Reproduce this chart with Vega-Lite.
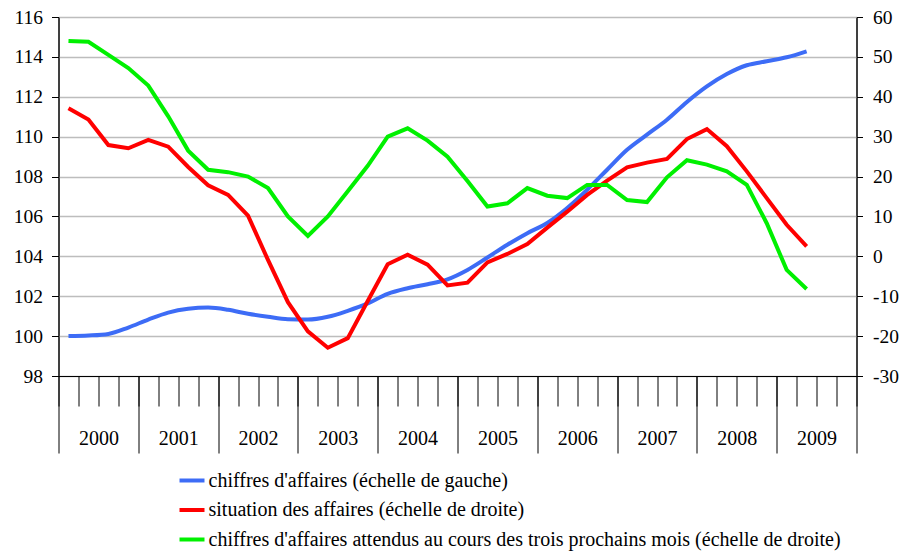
{
  "$schema": "https://vega.github.io/schema/vega-lite/v6.json",
  "width": 798,
  "height": 359,
  "autosize": {"type": "none"},
  "padding": {"left": 58.5, "top": 17, "right": 50.5, "bottom": 175},
  "background": "white",
  "config": {
    "view": {"stroke": "black", "strokeWidth": 1},
    "font": "Liberation Serif, Times New Roman, serif",
    "axis": {"labelFont": "Liberation Serif, Times New Roman, serif", "labelColor": "black", "domainColor": "black", "tickColor": "black", "domainWidth": 1, "tickWidth": 1},
    "legend": {"labelFont": "Liberation Serif, Times New Roman, serif"}
  },
  "data": {
    "values": [
      {"q": 0.5, "ca": 100.0, "sit": 37.1, "att": 54.0},
      {"q": 1.5, "ca": 100.03, "sit": 34.3, "att": 53.8},
      {"q": 2.5, "ca": 100.11, "sit": 27.9, "att": 50.5},
      {"q": 3.5, "ca": 100.43, "sit": 27.1, "att": 47.2},
      {"q": 4.5, "ca": 100.83, "sit": 29.2, "att": 42.8},
      {"q": 5.5, "ca": 101.18, "sit": 27.5, "att": 35.1},
      {"q": 6.5, "ca": 101.37, "sit": 22.4, "att": 26.5},
      {"q": 7.5, "ca": 101.43, "sit": 17.8, "att": 21.7},
      {"q": 8.5, "ca": 101.32, "sit": 15.4, "att": 21.1},
      {"q": 9.5, "ca": 101.12, "sit": 10.2, "att": 20.0},
      {"q": 10.5, "ca": 100.97, "sit": -0.9, "att": 17.1},
      {"q": 11.5, "ca": 100.85, "sit": -11.5, "att": 10.0},
      {"q": 12.5, "ca": 100.83, "sit": -18.8, "att": 5.1},
      {"q": 13.5, "ca": 100.97, "sit": -22.9, "att": 10.0},
      {"q": 14.5, "ca": 101.27, "sit": -20.5, "att": 16.3},
      {"q": 15.5, "ca": 101.64, "sit": -11.2, "att": 22.7},
      {"q": 16.5, "ca": 102.12, "sit": -2.0, "att": 30.0},
      {"q": 17.5, "ca": 102.4, "sit": 0.4, "att": 32.1},
      {"q": 18.5, "ca": 102.6, "sit": -2.1, "att": 29.0},
      {"q": 19.5, "ca": 102.85, "sit": -7.3, "att": 25.0},
      {"q": 20.5, "ca": 103.32, "sit": -6.6, "att": 18.9},
      {"q": 21.5, "ca": 103.94, "sit": -1.5, "att": 12.5},
      {"q": 22.5, "ca": 104.58, "sit": 0.6, "att": 13.3},
      {"q": 23.5, "ca": 105.16, "sit": 3.1, "att": 17.1},
      {"q": 24.5, "ca": 105.67, "sit": 7.2, "att": 15.2},
      {"q": 25.5, "ca": 106.42, "sit": 11.2, "att": 14.6},
      {"q": 26.5, "ca": 107.34, "sit": 15.4, "att": 17.9},
      {"q": 27.5, "ca": 108.34, "sit": 19.0, "att": 17.9},
      {"q": 28.5, "ca": 109.34, "sit": 22.3, "att": 14.1},
      {"q": 29.5, "ca": 110.1, "sit": 23.5, "att": 13.6},
      {"q": 30.5, "ca": 110.85, "sit": 24.4, "att": 19.8},
      {"q": 31.5, "ca": 111.74, "sit": 29.4, "att": 24.1},
      {"q": 32.5, "ca": 112.52, "sit": 31.9, "att": 23.0},
      {"q": 33.5, "ca": 113.14, "sit": 27.6, "att": 21.3},
      {"q": 34.5, "ca": 113.58, "sit": 21.3, "att": 17.9},
      {"q": 35.5, "ca": 113.78, "sit": 14.6, "att": 8.3},
      {"q": 36.5, "ca": 113.98, "sit": 7.9, "att": -3.4},
      {"q": 37.5, "ca": 114.28, "sit": 2.5, "att": -8.2}
    ]
  },
  "layer": [
    {
      "transform": [{"fold": ["ca"], "as": ["k", "v"]}],
      "mark": {"type": "line", "strokeWidth": 4, "interpolate": "monotone"},
      "encoding": {
        "x": {
          "field": "q", "type": "quantitative",
          "scale": {"domain": [0, 40], "nice": false, "zero": false},
          "axis": {
            "orient": "bottom", "title": null, "grid": false,
            "values": [0,1,2,3,4,5,6,7,8,9,10,11,12,13,14,15,16,17,18,19,20,21,22,23,24,25,26,27,28,29,30,31,32,33,34,35,36,37,38,39,40],
            "tickSize": 30,
            "labelExpr": "datum.value % 4 == 2 ? '' + (2000 + floor(datum.value / 4)) : ''",
            "labelBaseline": "middle", "labelAlign": "center", "labelPadding": 32,
            "labelFont": "Liberation Serif, Times New Roman, serif",
            "labelFontSize": 20, "labelOverlap": false, "labelFlush": false, "labelBound": false
          }
        },
        "y": {
          "field": "v", "type": "quantitative",
          "scale": {"domain": [98, 116], "nice": false, "zero": false},
          "axis": {
            "orient": "left", "title": null,
            "values": [98,100,102,104,106,108,110,112,114,116],
            "tickSize": 7, "labelPadding": 9, "labelFontSize": 19.5,
            "labelFont": "Liberation Serif, Times New Roman, serif",
            "grid": true, "gridColor": "#bdbdbd", "gridWidth": 1.5
          }
        },
        "color": {
          "field": "k", "type": "nominal",
          "scale": {"domain": ["ca", "sit", "att"], "range": ["#3D6CF6", "#FF0000", "#00F000"]},
          "legend": {
            "orient": "none", "legendX": 119, "legendY": 449, "title": null,
            "direction": "vertical", "padding": 0,
            "symbolType": "stroke", "symbolSize": 625, "symbolStrokeWidth": 4,
            "labelFont": "Liberation Serif, Times New Roman, serif", "labelFontSize": 20, "labelColor": "black",
            "labelOffset": 2, "rowPadding": 4.5, "labelLimit": 900,
            "labelExpr": "datum.value === 'ca' ? \"chiffres d'affaires (échelle de gauche)\" : datum.value === 'sit' ? 'situation des affaires (échelle de droite)' : \"chiffres d'affaires attendus au cours des trois prochains mois (échelle de droite)\""
          }
        }
      }
    },
    {
      "transform": [{"fold": ["sit", "att"], "as": ["k", "v"]}],
      "mark": {"type": "line", "strokeWidth": 4},
      "encoding": {
        "x": {
          "field": "q", "type": "quantitative",
          "scale": {"domain": [0, 40], "nice": false, "zero": false},
          "axis": {
            "orient": "bottom", "title": null, "grid": false, "labels": false, "domain": false,
            "values": [0,4,8,12,16,20,24,28,32,36,40],
            "tickSize": 77
          }
        },
        "y": {
          "field": "v", "type": "quantitative",
          "scale": {"domain": [-30, 60], "nice": false, "zero": false},
          "axis": {
            "orient": "right", "title": null, "grid": false,
            "values": [-30,-20,-10,0,10,20,30,40,50,60],
            "tickSize": 6, "labelPadding": 10, "labelFontSize": 19.5,
            "labelFont": "Liberation Serif, Times New Roman, serif",
            "labelExpr": "'' + datum.value"
          }
        },
        "color": {"field": "k", "type": "nominal"}
      }
    }
  ],
  "resolve": {"scale": {"y": "independent"}, "axis": {"x": "independent", "y": "independent"}}
}
